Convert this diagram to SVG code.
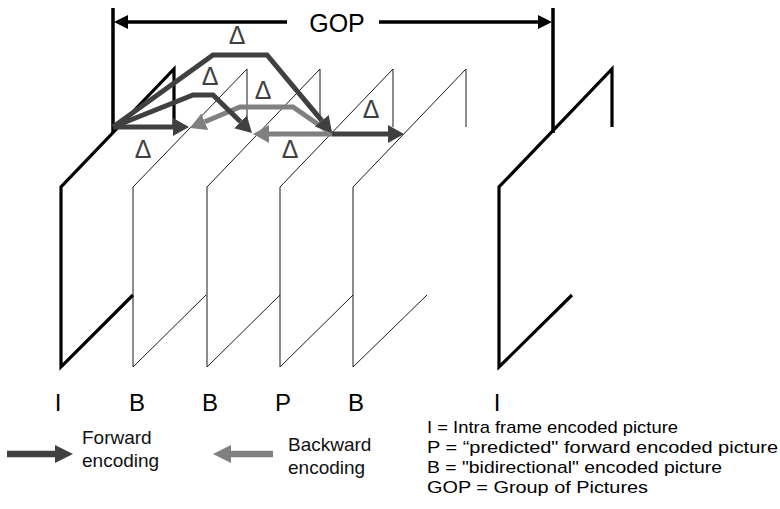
<svg xmlns="http://www.w3.org/2000/svg" width="780" height="509" viewBox="0 0 780 509">
<style>
  .thick { fill: none; stroke: #000; stroke-width: 3.2; stroke-linejoin: miter; }
  .thin { fill: none; stroke: #1a1a1a; stroke-width: 1; }
  .fwd { fill: none; stroke: #404040; stroke-width: 5; stroke-linejoin: miter; }
  .bwd { fill: none; stroke: #808080; stroke-width: 5; stroke-linejoin: miter; }
  .gop { fill: none; stroke: #000; stroke-width: 3.5; }
  .delta { font-family: "Liberation Sans", Arial, sans-serif; font-size: 25px; fill: #404040; text-anchor: middle; }
  .lbl { font-family: "Liberation Sans", Arial, sans-serif; font-size: 24px; fill: #000; text-anchor: middle; }
  .leg { font-family: "Liberation Sans", Arial, sans-serif; font-size: 19px; fill: #111; }
  .key { font-family: "Liberation Sans", Arial, sans-serif; font-size: 17px; fill: #000; }
</style>
<defs>
  <marker id="hf" markerUnits="userSpaceOnUse" markerWidth="16" markerHeight="18" refX="0" refY="9" orient="auto">
    <path d="M0,0 L16,9 L0,18 z" fill="#404040"/>
  </marker>
  <marker id="hb" markerUnits="userSpaceOnUse" markerWidth="16" markerHeight="18" refX="0" refY="9" orient="auto">
    <path d="M0,0 L16,9 L0,18 z" fill="#808080"/>
  </marker>
  <marker id="hlf" markerUnits="userSpaceOnUse" markerWidth="18" markerHeight="18" refX="0" refY="9" orient="auto">
    <path d="M0,0 L18,9 L0,18 z" fill="#404040"/>
  </marker>
  <marker id="hlb" markerUnits="userSpaceOnUse" markerWidth="18" markerHeight="18" refX="0" refY="9" orient="auto">
    <path d="M0,0 L18,9 L0,18 z" fill="#808080"/>
  </marker>
  <marker id="hg" markerUnits="userSpaceOnUse" markerWidth="14" markerHeight="14" refX="0" refY="7" orient="auto">
    <path d="M0,0 L14,7 L0,14 z" fill="#000"/>
  </marker>
</defs>
<rect x="0" y="0" width="780" height="509" fill="#fff"/>

<!-- Frames -->
<g id="frame-I1">
  <path class="thick" d="M133,295 L61,367 L61,187 L174,69 L174,127"/>
  <text class="lbl" x="58" y="411">I</text>
</g>
<g id="frame-B1">
  <path class="thin" d="M206,295 L133,367 L133,187 L247,69 L247,127"/>
  <text class="lbl" x="137" y="411">B</text>
</g>
<g id="frame-B2">
  <path class="thin" d="M280,295 L207,367 L207,187 L320,69 L320,127"/>
  <text class="lbl" x="210" y="411">B</text>
</g>
<g id="frame-P">
  <path class="thin" d="M353,295 L280,367 L280,187 L393,69 L393,127"/>
  <text class="lbl" x="283" y="411">P</text>
</g>
<g id="frame-B3">
  <path class="thin" d="M427,295 L353,367 L353,187 L466,69 L466,127"/>
  <text class="lbl" x="356" y="411">B</text>
</g>
<g id="frame-I2">
  <path class="thick" d="M572,295 L499,367 L499,187 L612,69 L612,127"/>
  <text class="lbl" x="497" y="411">I</text>
</g>

<!-- GOP bracket -->
<g id="gop">
  <line class="gop" x1="113" y1="8" x2="113" y2="132"/>
  <line class="gop" x1="553" y1="8" x2="553" y2="133"/>
  <line class="gop" x1="287" y1="22" x2="128" y2="22" marker-end="url(#hg)"/>
  <line class="gop" x1="379" y1="22" x2="538" y2="22" marker-end="url(#hg)"/>
  <text x="337" y="32" font-family="Liberation Sans, Arial, sans-serif" font-size="25" text-anchor="middle" fill="#000">GOP</text>
</g>

<!-- Connectors -->
<g id="connectors">
  <path class="fwd" d="M113,127 H173" marker-end="url(#hf)"/>
  <path class="bwd" d="M332,134 L293,107 L240,107 L204.8,121.8" marker-end="url(#hb)"/>
  <path class="bwd" d="M332,134 H269" marker-end="url(#hb)"/>
  <path class="fwd" d="M113,127 L193,95 L213,95 L240.5,121.8" marker-end="url(#hf)"/>
  <path class="fwd" d="M113,127 L213,55 L267,55 L321.8,120.7" marker-end="url(#hf)"/>
  <path class="fwd" d="M332,134 H388" marker-end="url(#hf)"/>
  <text class="delta" x="143" y="158">Δ</text>
  <text class="delta" x="210" y="85">Δ</text>
  <text class="delta" x="237" y="44">Δ</text>
  <text class="delta" x="263" y="99">Δ</text>
  <text class="delta" x="371" y="118">Δ</text>
  <text class="delta" x="290" y="158">Δ</text>
</g>

<!-- Legend -->
<g id="legend-forward">
  <line x1="7" y1="454" x2="55" y2="454" stroke="#404040" stroke-width="6.5" marker-end="url(#hlf)"/>
  <text class="leg" x="82" y="444">Forward</text>
  <text class="leg" x="82" y="467">encoding</text>
</g>
<g id="legend-backward">
  <line x1="273" y1="454" x2="231" y2="454" stroke="#808080" stroke-width="6.5" marker-end="url(#hlb)"/>
  <text class="leg" x="288" y="451">Backward</text>
  <text class="leg" x="288" y="474">encoding</text>
</g>
<g id="legend-key">
  <text class="key" x="427" y="433" textLength="251" lengthAdjust="spacingAndGlyphs">I = Intra frame encoded picture</text>
  <text class="key" x="427" y="453" textLength="351" lengthAdjust="spacingAndGlyphs">P = “predicted" forward encoded picture</text>
  <text class="key" x="427" y="473" textLength="295" lengthAdjust="spacingAndGlyphs">B = "bidirectional" encoded picture</text>
  <text class="key" x="427" y="493" textLength="221" lengthAdjust="spacingAndGlyphs">GOP = Group of Pictures</text>
</g>
</svg>
